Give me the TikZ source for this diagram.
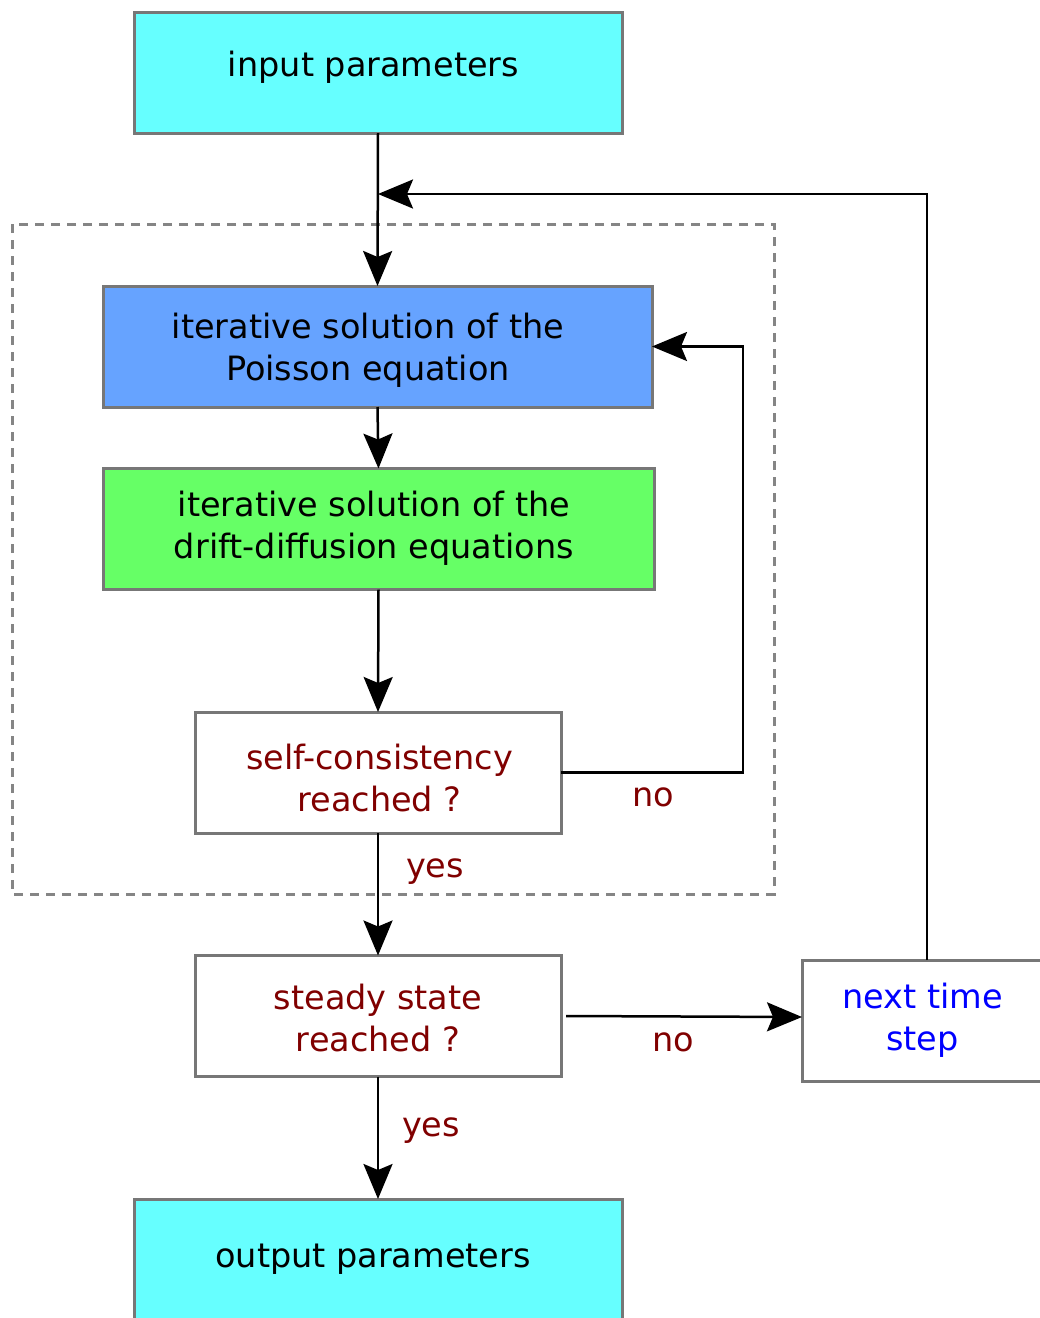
\documentclass[tikz,border=0pt]{standalone}
\usepackage{fontspec}
\setmainfont{DejaVu Sans}
\usetikzlibrary{arrows.meta}
\definecolor{boxgray}{HTML}{777777}
\definecolor{cyanfill}{HTML}{66FFFF}
\definecolor{bluefill}{HTML}{66A3FF}
\definecolor{greenfill}{HTML}{66FF66}
\definecolor{darkred}{HTML}{800000}
\definecolor{stepblue}{HTML}{0000FF}
\tikzset{
  procbox/.style={draw=boxgray, line width=3pt, minimum width=#1, minimum height=121pt, inner sep=0pt, outer sep=0pt},
  boxtext/.style={inner sep=0pt, align=center, font=\fontsize{33.5}{42}\selectfont},
  flow/.style={line width=2.5pt, line join=miter, -{Stealth[length=35pt, width=29pt, inset=6pt]}},
  lbl/.style={text=darkred, font=\fontsize{33.5}{40}\selectfont, inner sep=0pt}
}
\begin{document}
\begin{tikzpicture}[x=1pt, y=-1pt]
\useasboundingbox (0,0) rectangle (1040,1318);
% dashed frame
\draw[boxgray!90, line width=3pt, dash pattern=on 9pt off 7pt] (12,224) rectangle (774,894);
% boxes
\node[procbox=488pt, fill=cyanfill] (inp) at (378,72.5) {};
\node[procbox=549pt, fill=bluefill] (poi) at (377.5,346.5) {};
\node[procbox=551pt, fill=greenfill] (dd) at (378.5,529) {};
\node[procbox=366pt, fill=white] (sc) at (378,772.5) {};
\node[procbox=366pt, fill=white] (ss) at (378,1016) {};
\node[procbox=250pt, fill=white] (nts) at (927,1020.5) {};
\node[procbox=488pt, fill=cyanfill] (out) at (378,1259.5) {};
% box texts
\node[boxtext] (inpT) at (373.5,67.5) {input parameters};
\node[boxtext] (poiT) at (368,350.5) {iterative solution of the\\Poisson equation};
\node[boxtext] (ddT) at (374,528) {iterative solution of the\\drift-diffusion equations};
\node[boxtext, text=darkred] (scT) at (379.5,777.5) {self-consistency\\reached ?};
\node[boxtext, text=darkred] (ssT) at (378,1018) {steady state\\reached ?};
\node[boxtext, text=stepblue] (ntsT) at (922.5,1020.5) {next time\\step};
\node[boxtext] (outT) at (373,1259.5) {output parameters};
\coordinate (join) at (378,194);
\coordinate (ntsup) at (927,194);
\coordinate (noR) at (743,772.5);
\coordinate (noT) at (743,346.5);
% connectors
\draw[flow] (inp.south) -- (poi.north);
\draw[flow] (nts.north) -- (ntsup) -- (join);
\draw[flow] (poi.south) -- (dd.north);
\draw[flow] (dd.south) -- (sc.north);
\draw[flow] (sc.east) -- (noR) -- (noT) -- (poi.east);
\draw[flow] (sc.south) -- (ss.north);
\draw[flow] ([xshift=5pt]ss.east) -- ([yshift=3.5pt]nts.west);
\draw[flow] (ss.south) -- (out.north);
% labels
\node[lbl] (lno1) at (653,797) {no};
\node[lbl] (lyes1) at (435,872) {yes};
\node[lbl] (lno2) at (673,1042) {no};
\node[lbl] (lyes2) at (431,1131) {yes};
\end{tikzpicture}
\end{document}
